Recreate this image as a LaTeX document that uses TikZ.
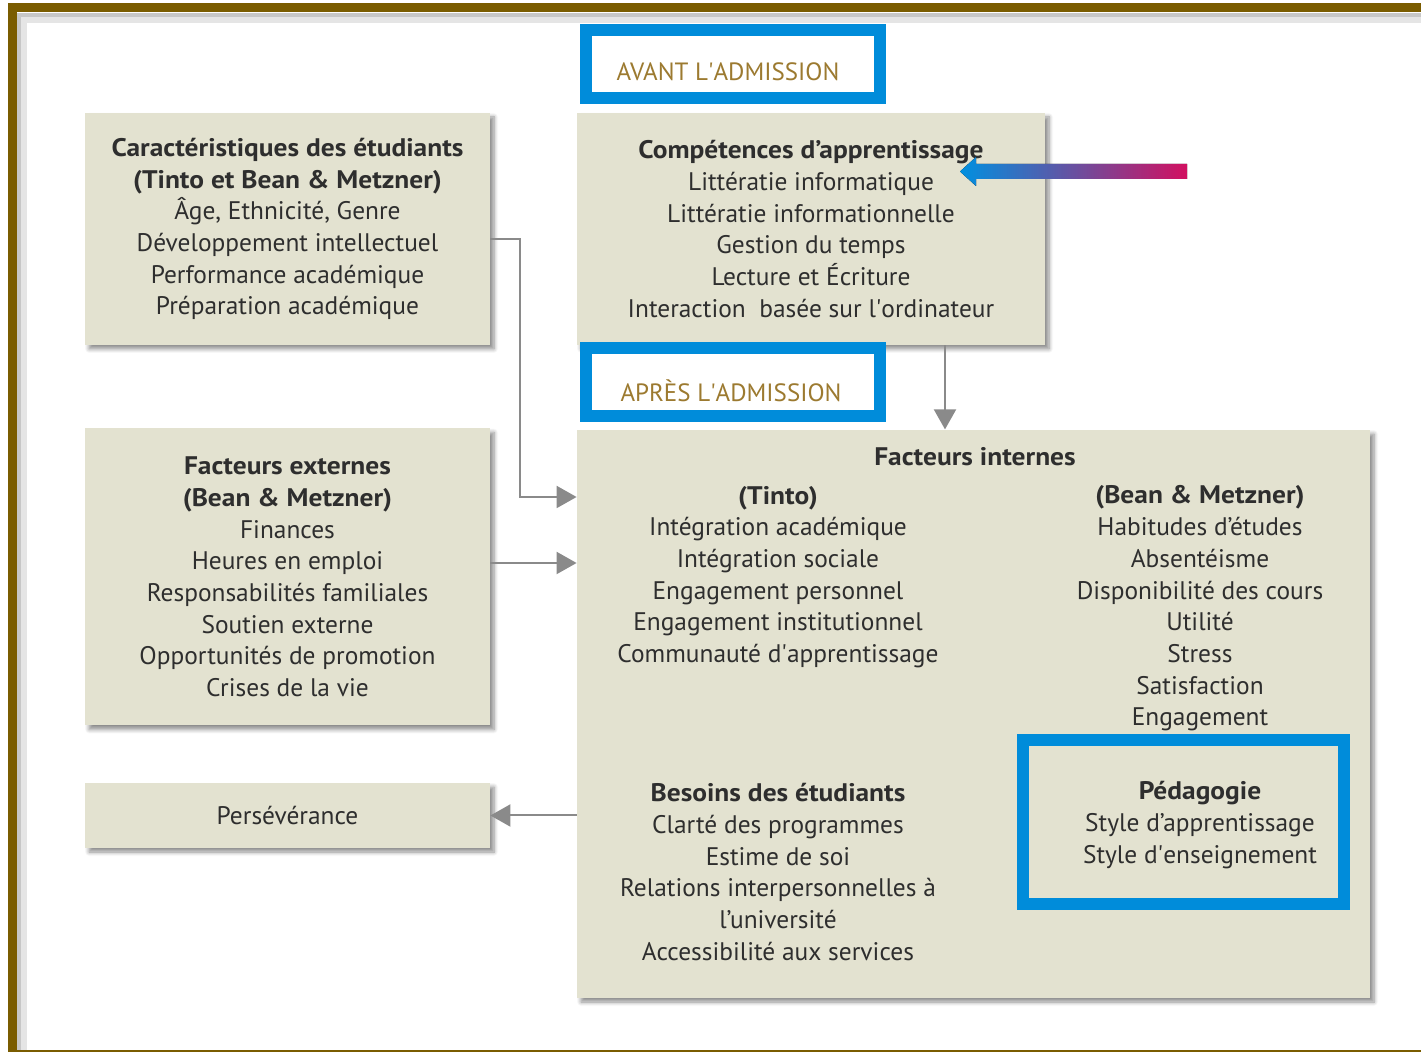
\documentclass[tikz,border=0pt]{standalone}
\usepackage{fontspec}
\setmainfont{PT Sans}[BoldFeatures={FakeStretch=1.08}]
\usetikzlibrary{positioning,arrows.meta,shadows.blur}
\definecolor{boxfill}{RGB}{227,226,208}
\definecolor{admblue}{RGB}{0,140,218}
\definecolor{framebrown}{RGB}{122,92,0}
\definecolor{gold}{RGB}{156,122,48}
\definecolor{linegray}{RGB}{138,138,138}
\definecolor{ptrblue}{RGB}{0,144,224}
\definecolor{ptrpink}{RGB}{210,16,96}

\begin{document}
\begin{tikzpicture}[x=0.5pt, y=-0.5pt,
    every node/.style={font=\fontsize{12.7}{15.85}\selectfont, text=black!82, align=center},
    box/.style={fill=boxfill, inner sep=0pt,
      blur shadow={shadow xshift=2pt, shadow yshift=-2pt, shadow blur steps=6, shadow opacity=45}},
    bluebox/.style={draw=admblue, line width=6pt, inner sep=0pt},
    phase/.style={text=gold, font=\fontsize{12.5}{15}\selectfont},
    conn/.style={draw=linegray, line width=1pt, -{Triangle[length=10pt,width=11pt]}}]

    \useasboundingbox (0,0) rectangle (1421,1052);

    % frame
    \draw[black!10, line width=3pt] (1440,20) -- (24,20) -- (24,1060);
    \draw[black!22, line width=2pt] (1440,15) -- (19,15) -- (19,1060);
    \draw[framebrown, line width=4.5pt] (1440,8) -- (12.5,8) -- (12.5,1055) -- (1440,1055);

    % boxes
    \node[box, minimum width=202.5pt, minimum height=116pt] (car) at (287.5,229)
        {\textbf{Caractéristiques des étudiants}\\\textbf{(Tinto et Bean \& Metzner)}\\
         Âge, Ethnicité, Genre\\Développement intellectuel\\Performance académique\\Préparation académique};
    \node[box, minimum width=234pt, minimum height=116pt] (comp) at (811,229)
        {\textbf{Compétences d’apprentissage}\\Littératie informatique\\Littératie informationnelle\\
         Gestion du temps\\Lecture et Écriture\\Interaction\ \ basée sur l\textquotesingle ordinateur};
    \node[box, minimum width=202.5pt, minimum height=148.5pt] (ext) at (287.5,577)
        {\textbf{Facteurs externes}\\\textbf{(Bean \& Metzner)}\\Finances\\Heures en emploi\\
         Responsabilités familiales\\Soutien externe\\Opportunités de promotion\\Crises de la vie};
    \node[box, minimum width=202.5pt, minimum height=32.5pt] (pers) at (287.5,815.5) {Persévérance};
    \node[box, minimum width=396.5pt, minimum height=284pt] (int) at (973.5,714) {};

    % connectors
    \draw[conn] ([yshift=-5pt]car.east) -- ++(30,0) |- ([yshift=108.5pt]int.west);
    \draw[conn] ([yshift=7pt]ext.east) -- ([yshift=75.5pt]int.west);
    \draw[conn] ([xshift=67pt]comp.south) -- ++(0,84);
    \draw[conn] (pers.east -| int.west) -- (pers.east);

    % pointer
    \fill[left color=ptrblue, right color=ptrpink]
        (1187,164) -- (976,164) -- (976,157) -- (960,171.5) -- (976,186) -- (976,179) -- (1187,179) -- cycle;

    % phases
    \node[bluebox, fill=white, minimum width=147pt, minimum height=34pt] (avant) at (733,64) {};
    \node[phase] (avantlbl) at (728,72) {AVANT L\textquotesingle ADMISSION};
    \node[bluebox, fill=white, minimum width=147pt, minimum height=34pt] (apres) at (733,382) {};
    \node[phase] (apreslbl) at (731,391) {APRÈS L\textquotesingle ADMISSION};

    % facteurs internes
    \node (intlbl) at (975,457) {\textbf{Facteurs internes}};
    \node (tinto) at (778,577)
        {\textbf{(Tinto)}\\Intégration académique\\Intégration sociale\\Engagement personnel\\
         Engagement institutionnel\\Communauté d\textquotesingle apprentissage};
    \node (bean) at (1200,608.5)
        {\textbf{(Bean \& Metzner)}\\Habitudes d’études\\Absentéisme\\Disponibilité des cours\\
         Utilité\\Stress\\Satisfaction\\Engagement};
    \node (besoins) at (778,872)
        {\textbf{Besoins des étudiants}\\Clarté des programmes\\Estime de soi\\
         Relations interpersonnelles à\\l’université\\Accessibilité aux services};
    \node[bluebox, minimum width=160.5pt, minimum height=82pt] (peda) at (1183.5,822) {};
    \node (pedalbl) at (1200,825)
        {\textbf{Pédagogie}\\Style d’apprentissage\\Style d\textquotesingle enseignement};

\end{tikzpicture}
\end{document}
